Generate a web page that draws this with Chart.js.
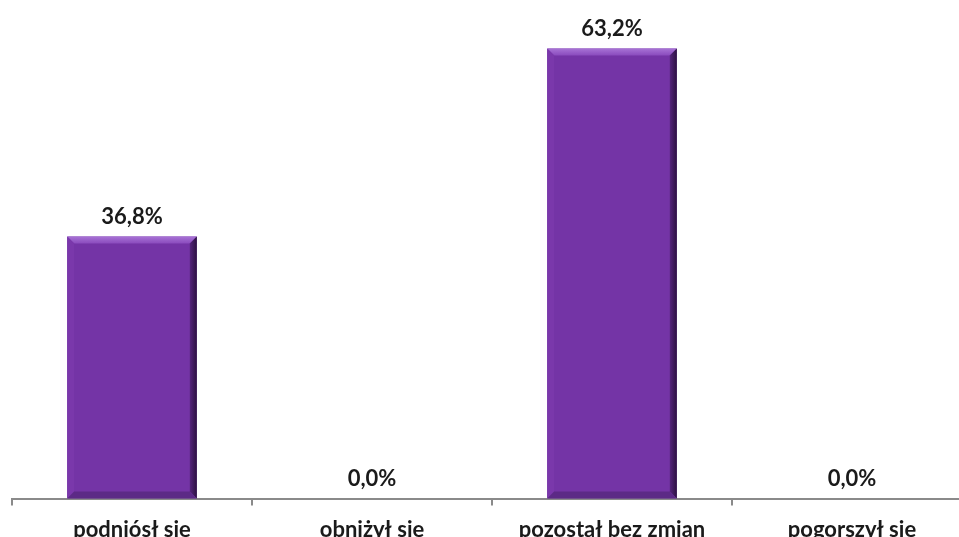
<!DOCTYPE html>
<html>
<head>
<meta charset="utf-8">
<script src="https://cdn.jsdelivr.net/npm/chart.js@4/dist/chart.umd.min.js"></script>
<style>
    html, body { margin: 0; padding: 0; background: #fff; overflow: hidden; }
    /* the original picture is cropped on the right and bottom edge */
    #frame { position: relative; width: 959px; height: 537px; overflow: hidden; }
    #barChart { position: absolute; left: 0; top: 0; display: block; }
</style>
</head>
<body>
<div id="frame"><canvas id="barChart" width="972" height="554"></canvas></div>
<script>
const categories = ['podniósł się', 'obniżył się', 'pozostał bez zmian', 'pogorszył się'];
const percentValues = [36.8, 0.0, 63.2, 0.0];

const barColor = '#7434a6';

// draws the value labels above each bar (like Excel data labels)
const valueLabelPlugin = {
    id: 'valueLabels',
    afterDatasetsDraw(chart) {
        const ctx = chart.ctx;
        const meta = chart.getDatasetMeta(0);
        ctx.save();
        ctx.font = 'bold 22px Lato';
        ctx.fillStyle = '#1a1a1a';
        ctx.textAlign = 'center';
        ctx.textBaseline = 'bottom';
        meta.data.forEach((bar, i) => {
            const text = percentValues[i].toFixed(1).replace('.', ',') + '%';
            ctx.fillText(text, bar.x, bar.y - 9);
        });
        ctx.restore();
    }
};

// simple bevel effect on top of the flat bars
const bevelPlugin = {
    id: 'bevel',
    afterDatasetsDraw(chart) {
        const ctx = chart.ctx;
        const meta = chart.getDatasetMeta(0);
        ctx.save();
        meta.data.forEach(bar => {
            const h = bar.base - bar.y;
            if (h < 1) return;
            const left = bar.x - bar.width / 2;
            const right = bar.x + bar.width / 2;
            const top = bar.y;
            const bottom = bar.base;
            const b = 7;
            // top highlight
            let g = ctx.createLinearGradient(0, top, 0, top + b);
            g.addColorStop(0, '#a873d6');
            g.addColorStop(1, '#8a4bbd');
            ctx.fillStyle = g;
            ctx.beginPath();
            ctx.moveTo(left, top);
            ctx.lineTo(right, top);
            ctx.lineTo(right - b, top + b);
            ctx.lineTo(left + b, top + b);
            ctx.closePath();
            ctx.fill();
            // left edge
            ctx.fillStyle = '#7a38ab';
            ctx.beginPath();
            ctx.moveTo(left, top);
            ctx.lineTo(left + b, top + b);
            ctx.lineTo(left + b, bottom - b);
            ctx.lineTo(left, bottom);
            ctx.closePath();
            ctx.fill();
            // right dark edge
            g = ctx.createLinearGradient(right - b, 0, right, 0);
            g.addColorStop(0, '#55257c');
            g.addColorStop(1, '#2c1240');
            ctx.fillStyle = g;
            ctx.beginPath();
            ctx.moveTo(right, top);
            ctx.lineTo(right - b, top + b);
            ctx.lineTo(right - b, bottom - b);
            ctx.lineTo(right, bottom);
            ctx.closePath();
            ctx.fill();
            // bottom edge
            ctx.fillStyle = '#5c2a86';
            ctx.beginPath();
            ctx.moveTo(left, bottom);
            ctx.lineTo(left + b, bottom - b);
            ctx.lineTo(right - b, bottom - b);
            ctx.lineTo(right, bottom);
            ctx.closePath();
            ctx.fill();
        });
        ctx.restore();
    }
};

const ctx = document.getElementById('barChart').getContext('2d');
new Chart(ctx, {
    type: 'bar',
    data: {
        labels: categories,
        datasets: [{
            data: percentValues,
            backgroundColor: barColor,
            borderWidth: 0,
            categoryPercentage: 0.54,
            barPercentage: 1.0
        }]
    },
    options: {
        responsive: false,
        animation: false,
        layout: { padding: { left: 12, right: 0, top: 0, bottom: 0 } },
        plugins: {
            legend: { display: false },
            tooltip: { enabled: false }
        },
        scales: {
            y: {
                display: false,
                min: 0,
                max: 70
            },
            x: {
                border: { display: true, color: '#8a8a8a', width: 2 },
                grid: {
                    display: true,
                    offset: true,
                    drawOnChartArea: false,
                    drawTicks: true,
                    tickLength: 7,
                    color: '#8a8a8a',
                    lineWidth: 2
                },
                ticks: {
                    color: '#1a1a1a',
                    font: { family: 'Lato', size: 22, weight: 'bold' },
                    padding: 11,
                    maxRotation: 0
                }
            }
        }
    },
    plugins: [bevelPlugin, valueLabelPlugin]
});
</script>
</body>
</html>
